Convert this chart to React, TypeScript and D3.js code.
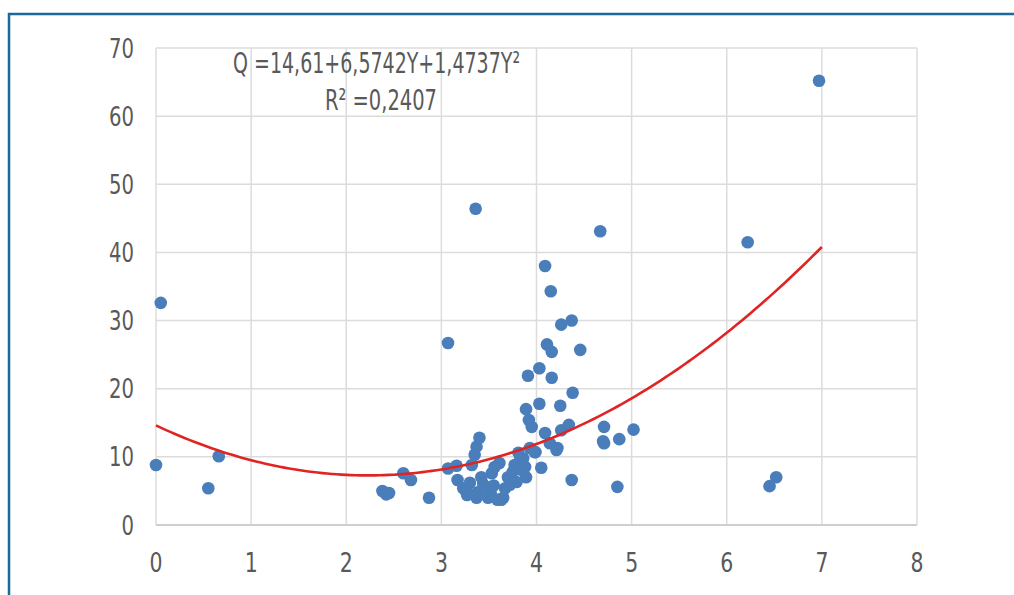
import React from "react";
import * as d3 from "d3";

const xTicks = [0, 1, 2, 3, 4, 5, 6, 7, 8];
const yTicks = [0, 10, 20, 30, 40, 50, 60, 70];
const equationText = "Q =14,61+6,5742Y+1,4737Y²";
const r2Text = "R² =0,2407";
const coef = [14.61, -6.5742, 1.4737];

const xs = [
  0.0, 0.05, 0.55, 0.66, 2.38, 2.42, 2.45, 2.6, 2.68, 2.87, 3.07, 3.36, 4.67, 6.22, 6.97,
  6.45, 6.52, 4.85, 4.37, 4.71, 4.7, 4.71, 4.87, 5.02,
  4.09, 4.15, 4.26, 4.37, 4.11, 4.16, 4.46, 4.03, 3.91, 4.16, 4.38, 4.03, 4.25,
  3.89, 3.92, 3.95, 4.09, 4.14, 4.22, 4.26, 4.34, 4.05, 3.99, 3.93,
  3.07, 3.16, 3.17, 3.23, 3.27, 3.3, 3.32, 3.35, 3.37, 3.4, 3.38, 3.37, 3.42, 3.46,
  3.49, 3.53, 3.56, 3.61, 3.59, 3.65, 3.67, 3.7, 3.72, 3.75, 3.77, 3.82, 3.84, 3.88,
  3.89, 3.79, 3.81, 3.98, 3.26, 3.44, 3.52, 3.63, 3.55, 3.86, 4.21, 3.74
];
const ys = [
  8.8, 32.6, 5.4, 10.1, 5.0, 4.5, 4.7, 7.6, 6.6, 4.0, 26.7, 46.4, 43.1, 41.5, 65.2,
  5.7, 7.0, 5.6, 6.6, 14.4, 12.3, 12.0, 12.6, 14.0,
  38.0, 34.3, 29.4, 30.0, 26.5, 25.4, 25.7, 23.0, 21.9, 21.6, 19.4, 17.8, 17.5,
  17.0, 15.4, 14.4, 13.5, 12.0, 11.3, 13.9, 14.7, 8.4, 10.7, 11.3,
  8.3, 8.7, 6.6, 5.4, 4.4, 6.2, 8.8, 10.3, 11.5, 12.8, 4.8, 4.0, 7.0, 5.6,
  4.0, 7.6, 8.5, 9.1, 3.7, 4.0, 5.4, 7.0, 5.9, 7.8, 8.8, 9.3, 8.1, 8.5,
  7.0, 6.3, 10.6, 10.7, 5.0, 6.0, 4.6, 3.7, 5.8, 9.8, 11.0, 6.5
];

const W = 1014;
const H = 595;
const x = d3.scaleLinear().domain([0, 8]).range([156, 917]);
const y = d3.scaleLinear().domain([0, 70]).range([525, 48]);

export default function App() {
  const curveData = d3.range(0, 7.0001, 0.05).map((v) => [v, coef[0] + coef[1] * v + coef[2] * v * v]);
  const line = d3
    .line<number[]>()
    .x((d) => x(d[0]))
    .y((d) => y(d[1]));
  const pts = xs.map((v, i) => [v, ys[i]]);
  const textColor = "#595959";
  const font = "'DejaVu Sans', sans-serif";
  return (
    <svg width={W} height={H} style={{ position: "absolute", left: 0, top: 0, background: "#fff" }}>
      <rect x={0} y={0} width={W} height={H} fill="#fff" />
      <rect x={9} y={14} width={1100} height={700} fill="none" stroke="#1a6a98" strokeWidth={2.5} />
      {xTicks.map((t) => (
        <line key={"vx" + t} x1={x(t)} x2={x(t)} y1={y(70)} y2={y(0)} stroke="#dcdcdc" strokeWidth={1.5} />
      ))}
      {yTicks.map((t) => (
        <line key={"hy" + t} x1={x(0)} x2={x(8)} y1={y(t)} y2={y(t)} stroke={t === 0 ? "#cfcfcf" : "#dcdcdc"} strokeWidth={t === 0 ? 2 : 1.5} />
      ))}
      {yTicks.map((t) => (
        <text
          key={"yl" + t}
          x={134}
          y={y(t) + 9.5}
          textAnchor="end"
          fontFamily={font}
          fontSize={26}
          fill={textColor}
          textLength={String(t).length * 12.5}
          lengthAdjust="spacingAndGlyphs"
        >
          {t}
        </text>
      ))}
      {xTicks.map((t) => (
        <text
          key={"xl" + t}
          x={x(t)}
          y={572}
          textAnchor="middle"
          fontFamily={font}
          fontSize={26}
          fill={textColor}
          textLength={13}
          lengthAdjust="spacingAndGlyphs"
        >
          {t}
        </text>
      ))}
      {pts.map((p, i) => (
        <circle key={"p" + i} cx={x(p[0])} cy={y(p[1])} r={6.3} fill="#4a7ebb" />
      ))}
      <path d={line(curveData) || ""} fill="none" stroke="#e02424" strokeWidth={2.6} />
      <text
        x={233}
        y={73}
        fontFamily={font}
        fontSize={29}
        fill={textColor}
        textLength={287}
        lengthAdjust="spacingAndGlyphs"
      >
        {equationText}
      </text>
      <text
        x={325}
        y={110}
        fontFamily={font}
        fontSize={29}
        fill={textColor}
        textLength={112}
        lengthAdjust="spacingAndGlyphs"
      >
        {r2Text}
      </text>
    </svg>
  );
}
